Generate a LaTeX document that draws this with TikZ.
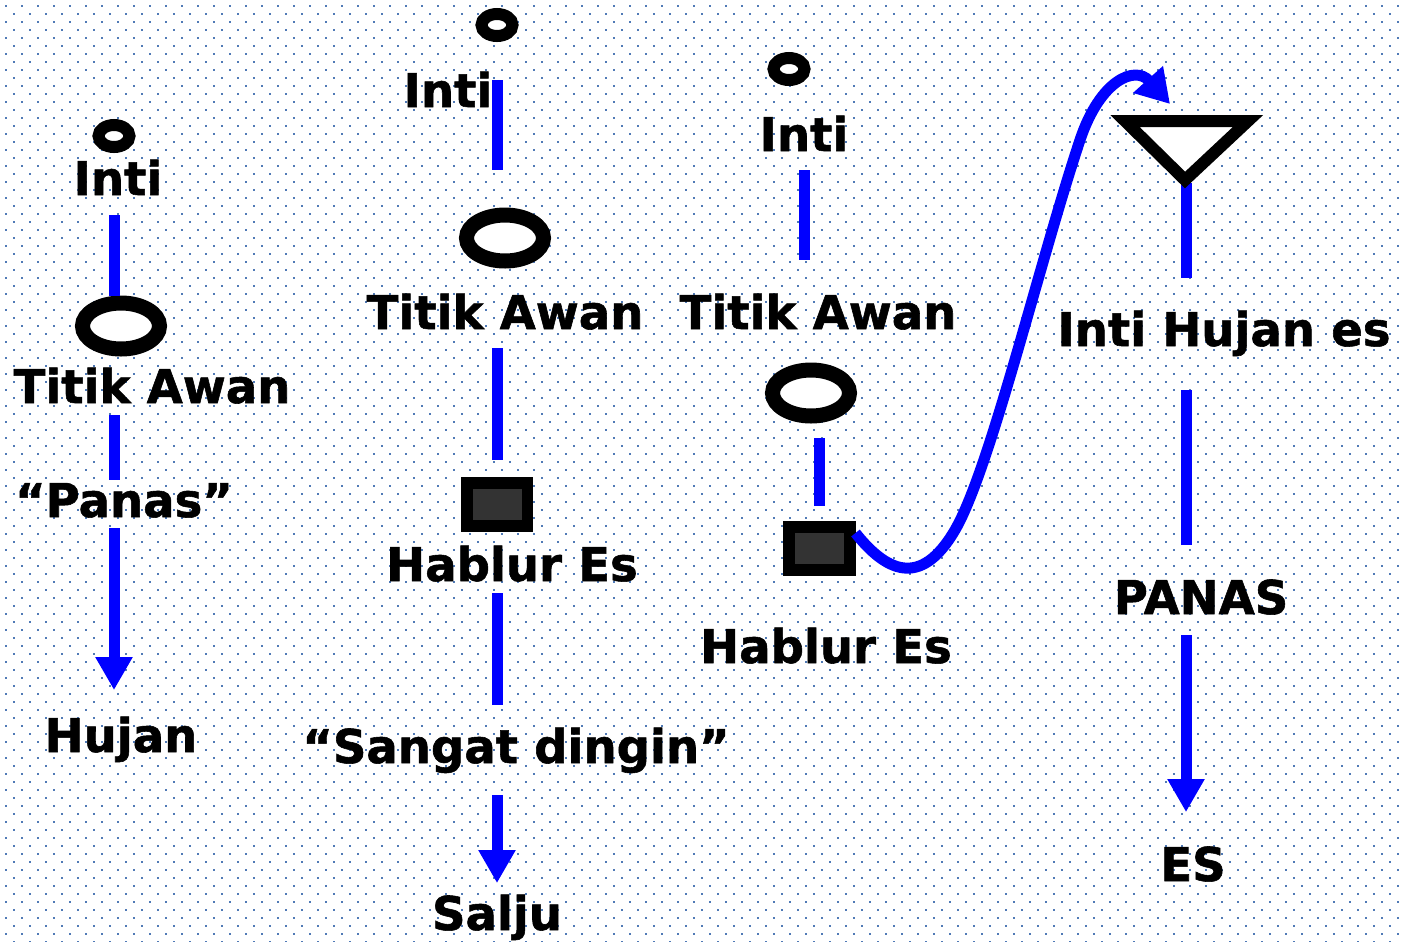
\documentclass[tikz,border=0pt]{standalone}
\usepackage{fontspec}
\setmainfont{DejaVu Sans}[BoldFeatures={FakeBold=1.2}]
\usetikzlibrary{arrows.meta,shapes.geometric}
\definecolor{dotblue}{RGB}{80,122,182}
\definecolor{boxgray}{RGB}{51,51,51}
\begin{document}
\begin{tikzpicture}[x=0.02cm,y=-0.02cm]
    \tikzset{
      txt/.style={font=\fontsize{26.5}{30}\selectfont\bfseries,inner sep=0,outer sep=0,
        text height=19.3pt,text depth=0pt,anchor=base},
      ring/.style={draw,ellipse,fill=white,inner sep=0},
      small/.style={ring,line width=0.24cm,minimum width=0.62cm,minimum height=0.44cm},
      big/.style={ring,line width=0.3cm,minimum width=1.54cm,minimum height=0.92cm},
      crystal/.style={draw,rectangle,line width=0.24cm,fill=boxgray,
        minimum width=1.22cm,minimum height=0.86cm,inner sep=0},
      wire/.style={blue,line width=0.22cm},
      fall/.style={wire,-{Triangle[width=0.7cm,length=0.66cm]}},
      swing/.style={blue,line width=0.22cm,-{Triangle[width=0.76cm,length=0.66cm]}}};
    \useasboundingbox (0,0) rectangle (1403,941);
    \fill[white] (0,0) rectangle (1403,941);
    \foreach \r in {0,...,58}
      \fill[dotblue] \foreach \c in {0,...,87}
        {(5+16*\c,5+16*\r) rectangle ++(1.8,1.8) (13+16*\c,13+16*\r) rectangle ++(1.8,1.8)};
    \node[small] (dot1) at (114,136) {};
    \node[txt] (inti1) at (118,195) {Inti};
    \node[big] (ring1) at (121,326) {};
    \node[txt] (awan1) at (152,403) {Titik Awan};
    \node[txt] (panas1) at (124,517) {“Panas”};
    \node[txt] (hujan) at (121,752) {Hujan};
    \node[small] (dot2) at (497,25) {};
    \node[txt] (inti2) at (448,107) {Inti};
    \node[big] (ring2) at (505,238) {};
    \node[txt] (awan2) at (505,329) {Titik Awan};
    \node[crystal] (box2) at (497,504) {};
    \node[txt] (hablur2) at (512,581) {Hablur Es};
    \node[txt] (dingin) at (516,763) {“Sangat dingin”};
    \node[txt] (salju) at (497,930) {Salju};
    \node[small] (dot3) at (789,69) {};
    \node[txt] (inti3) at (804,151) {Inti};
    \node[txt] (awan3) at (818,329) {Titik Awan};
    \node[big] (ring3) at (811,393) {};
    \node[crystal] (box3) at (819,548) {};
    \node[txt] (hablur3) at (826,663) {Hablur Es};
    \node[txt] (intihujan) at (1224,346) {Inti Hujan es};
    \node[txt] (panas4) at (1201,614) {PANAS};
    \node[txt] (es) at (1193,881) {ES};
    \coordinate (tri) at (1186,183);
    \coordinate (aim) at (1170,104);
    \draw[wire,shorten <=0.4cm] (inti1.south -| dot1) -- (ring1.north -| dot1);
    \draw[wire,shorten <=0.24cm,shorten >=0.06cm] (awan1.south -| dot1) -- (panas1.north -| dot1);
    \draw[fall,shorten <=0.22cm,shorten >=0.56cm] (panas1.south -| dot1) -- (hujan.north -| dot1);
    \draw[wire,shorten <=0.14cm,shorten >=0.75cm] (inti2.north -| box2) -- (ring2.north -| box2);
    \draw[wire,shorten <=0.38cm,shorten >=0.33cm] (awan2.south -| box2) -- (box2.north);
    \draw[wire,shorten <=0.24cm,shorten >=0.48cm] (hablur2.south -| box2) -- (dingin.north -| box2);
    \draw[fall,shorten <=0.64cm,shorten >=0.26cm] (dingin.south -| box2) -- (salju.north -| box2);
    \draw[wire,shorten <=0.38cm,shorten >=0.7cm] (inti3.south) -- (awan3.north -| inti3);
    \draw[wire,shorten <=0.29cm,shorten >=0.3cm] (ring3.south -| box3) -- (box3.north);
    \draw[wire,shorten >=0.68cm] (tri) -- (intihujan.north -| tri);
    \draw[wire,shorten <=0.88cm,shorten >=0.7cm] (intihujan.south -| tri) -- (panas4.north -| tri);
    \draw[fall,shorten <=0.42cm,shorten >=0.7cm] (panas4.south -| tri) -- (es.north -| tri);
    \draw[swing] ([yshift=0.3cm]box3.east) .. controls (885,570) and (920,590) .. (955,530)
      .. controls (990,470) and (1040,260) .. (1080,140)
      .. controls (1100,80) and (1135,65) .. (aim);
    \filldraw[fill=white,line width=0.24cm,line join=miter] (1125,121) -- (1248,121) -- (1185,180) -- cycle;
  \end{tikzpicture}
\end{document}
